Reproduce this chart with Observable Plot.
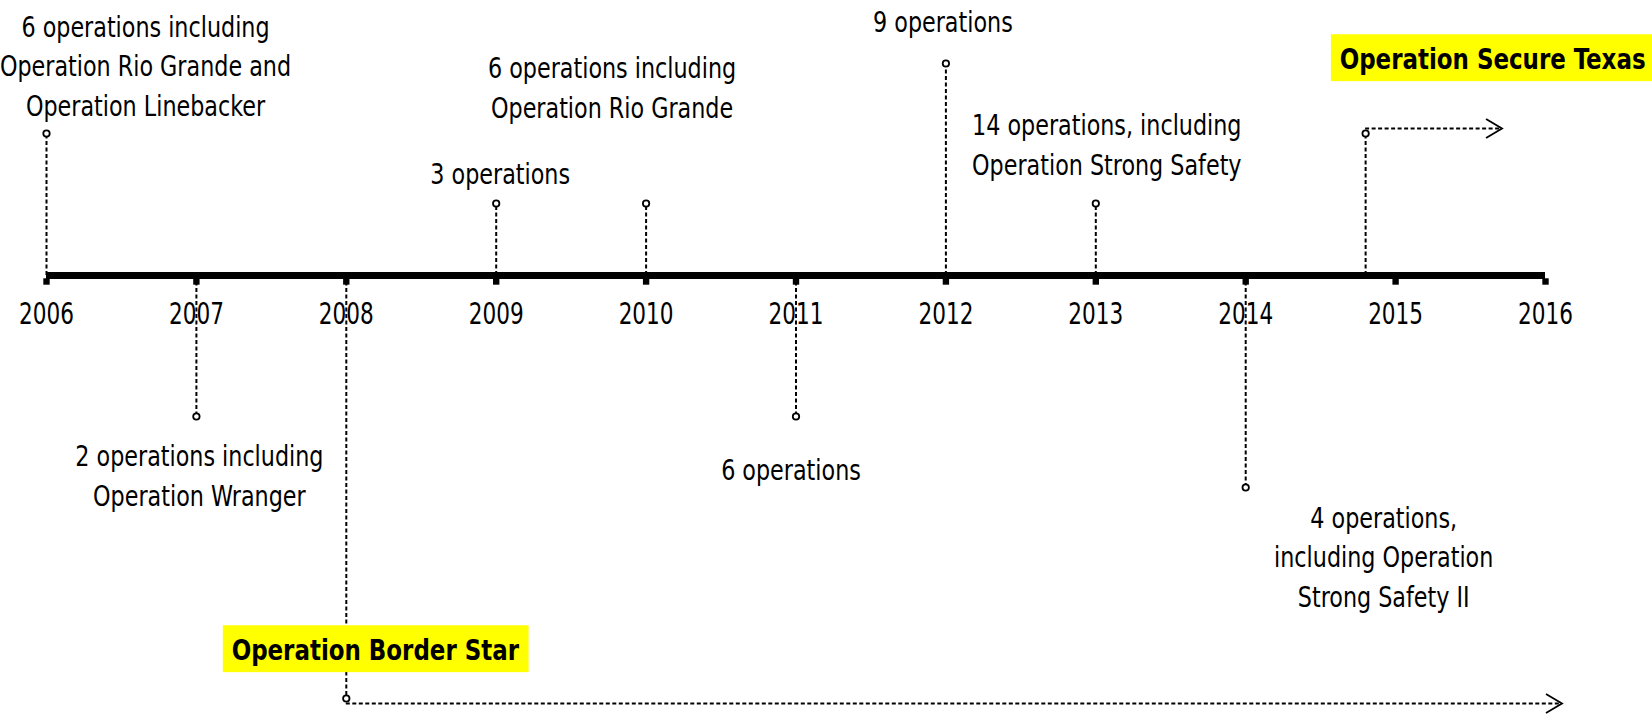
<!DOCTYPE html>
<html>
<head>
<meta charset="utf-8">
<script src="https://cdn.jsdelivr.net/npm/d3@7"></script>
<script src="https://cdn.jsdelivr.net/npm/@observablehq/plot@0.6"></script>
<style>
  html, body { margin: 0; padding: 0; background: #fff; }
  svg { display: block; }
</style>
</head>
<body>
<script>
// ---------- data ----------
const tickYears = [2006, 2007, 2008, 2009, 2010, 2011, 2012, 2013, 2014, 2015, 2016];
const eventYears = [2006, 2007, 2009, 2010, 2011, 2012, 2013, 2014];
// stem length (above + / below - the timeline)
const eventLevels = [142, -141, 72, 72, -141, 212, 72, -212];
const eventLabels = [
  "6 operations including\nOperation Rio Grande and\nOperation Linebacker",
  "2 operations including\nOperation Wranger",
  "3 operations",
  "6 operations including\nOperation Rio Grande",
  "6 operations",
  "9 operations",
  "14 operations, including\nOperation Strong Safety",
  "4 operations,\nincluding Operation\nStrong Safety II"
];
const operationNames = ["Operation Border Star", "Operation Secure Texas"];
const operationStart = [2008, 2014.8];
const operationEnd = [2016.11, 2015.71];
const operationLevels = [-423, 142];

// ---------- layout (label offsets in px relative to marker) ----------
const eventLabelOffsets = [[99, -70], [3, 57], [4, -32], [-34, -118], [-5, 51], [-3, -44], [11, -61], [138, 67]];
const operationLabelOffsets = [[29, -48], [127, -74]];
const operationLineOffset = [5, -5];
// horizontal squeeze per text group (emulates a condensed face)
const squeeze = {"tick labels": 0.8, "event label": 0.9, "operation label": 0.88};

const events = eventYears.map((year, i) => ({year, level: eventLevels[i], label: eventLabels[i]}));
const operations = operationNames.map((name, i) => ({name, start: operationStart[i], end: operationEnd[i], level: operationLevels[i]}));
const stems = [...events, ...operations.map(o => ({year: o.start, level: o.level}))];
const axisLine = [{x1: tickYears[0], x2: tickYears[tickYears.length - 1], y: 0}];

const FONT = "'DejaVu Sans Condensed', 'DejaVu Sans', sans-serif";

const chevron = {
  draw(ctx) {
    ctx.moveTo(-16, -9.5);
    ctx.lineTo(0, 0);
    ctx.lineTo(-16, 9.5);
  }
};

const marks = [
  // timeline
  Plot.ruleY(axisLine, {x1: "x1", x2: "x2", y: "y", stroke: "black", strokeWidth: 7}),
  Plot.dot(tickYears, {x: d => d, y: () => 0, symbol: "square", r: 3.6, dy: 6, fill: "black", stroke: null}),
  Plot.text(tickYears, {x: d => d, y: () => 0, text: d => String(d), dy: 39, fontSize: 30, fontFamily: FONT, fill: "black", ariaDescription: "tick labels"}),
  // stems
  Plot.ruleX(stems, {x: "year", y1: () => 0, y2: "level", stroke: "black", strokeWidth: 2, strokeDasharray: "4,2.5"}),
  // operation arrows
  ...operations.map((o, i) => [
    Plot.ruleY([o], {x1: "start", x2: "end", y: "level", dy: operationLineOffset[i], stroke: "black", strokeWidth: 1.8, strokeDasharray: "4,2.5"}),
    Plot.dot([o], {x: "end", y: "level", dy: operationLineOffset[i], symbol: chevron, fill: "none", stroke: "black", strokeWidth: 1.8})
  ]).flat(),
  // markers
  Plot.dot(stems, {x: "year", y: "level", r: 3.2, fill: "white", stroke: "black", strokeWidth: 1.8}),
  // event labels
  ...events.map((e, i) => Plot.text([e], {
    x: "year", y: "level", text: "label",
    dx: eventLabelOffsets[i][0], dy: eventLabelOffsets[i][1],
    fontSize: 27.5, lineHeight: 1.44, fontFamily: FONT, fill: "black",
    ariaDescription: "event label"
  })),
  // operation labels
  ...operations.map((o, i) => Plot.text([o], {
    x: "start", y: "level", text: "name",
    dx: operationLabelOffsets[i][0], dy: operationLabelOffsets[i][1],
    fontSize: 29, fontWeight: "bold", fontFamily: FONT, fill: "black",
    ariaDescription: "operation label"
  }))
];

const chart = Plot.plot({
  width: 1652,
  height: 716,
  marginTop: 0, marginBottom: 0, marginLeft: 0, marginRight: 0,
  x: {domain: [2006, 2016], range: [46, 1545], axis: null},
  y: {domain: [-441, 275], range: [716, 0], axis: null},
  style: {background: "white", fontFamily: FONT, overflow: "visible"},
  marks
});
document.body.append(chart);

// condense text horizontally around its anchor
for (const [desc, s] of Object.entries(squeeze)) {
  chart.querySelectorAll(`g[aria-description="${desc}"] text`).forEach(t => {
    const tr = t.getAttribute("transform") || "";
    t.setAttribute("transform", `${tr} scale(${s},1)`);
  });
}

// yellow highlight boxes behind the operation names
chart.querySelectorAll('g[aria-description="operation label"] text').forEach(t => {
  const bb = t.getBBox();
  const r = document.createElementNS("http://www.w3.org/2000/svg", "rect");
  r.setAttribute("x", bb.x - 10);
  r.setAttribute("y", bb.y - 8);
  r.setAttribute("width", bb.width + 20);
  r.setAttribute("height", bb.height + 14);
  r.setAttribute("fill", "#ffff00");
  r.setAttribute("stroke", "none");
  if (t.getAttribute("transform")) r.setAttribute("transform", t.getAttribute("transform"));
  t.parentNode.insertBefore(r, t);
});
</script>
</body>
</html>
